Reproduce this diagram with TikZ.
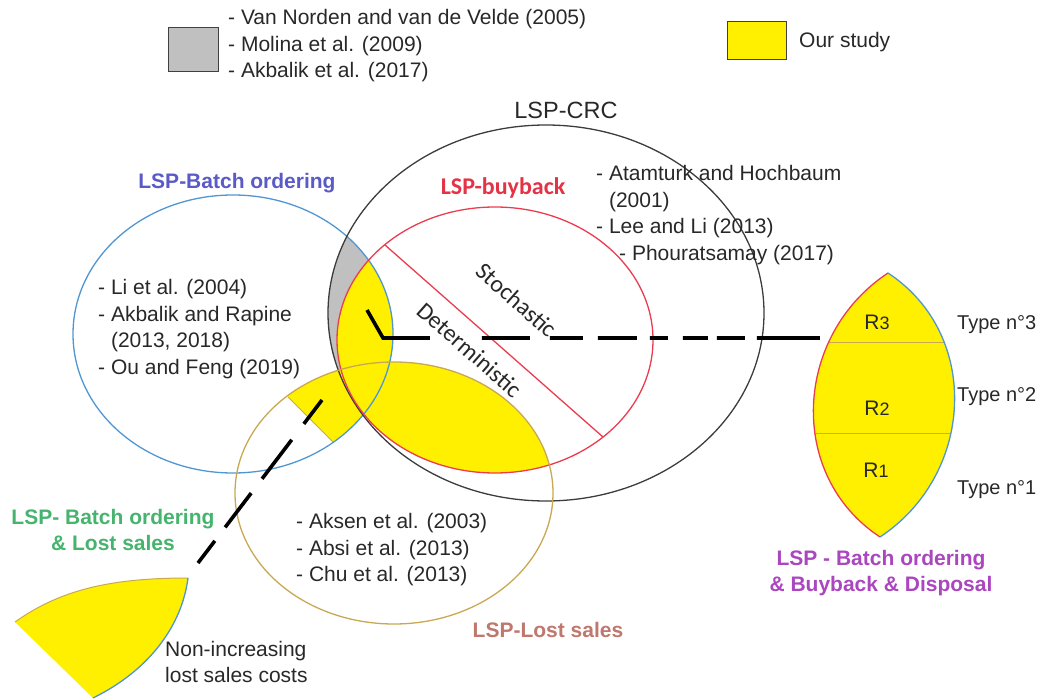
\documentclass[tikz,border=0pt]{standalone}
\usepackage{fontspec}
\setmainfont{Liberation Sans}
\newfontfamily\calibri{Carlito}
\usetikzlibrary{positioning}

\definecolor{ouryellow}{RGB}{255,240,0}
\definecolor{pastgray}{RGB}{192,192,192}
\definecolor{crcline}{RGB}{60,60,60}
\definecolor{buyline}{RGB}{235,60,80}
\definecolor{batchline}{RGB}{80,150,210}
\definecolor{lostline}{RGB}{200,168,80}
\definecolor{reftext}{RGB}{40,40,40}
\definecolor{batchtxt}{RGB}{90,90,200}
\definecolor{buytxt}{RGB}{228,50,70}
\definecolor{losttxt}{RGB}{190,120,110}
\definecolor{mixtxt}{RGB}{70,180,110}
\definecolor{allmix}{RGB}{170,70,190}

\begin{document}
\begin{tikzpicture}[
  x=1pt, y=-1pt,
  font=\fontsize{21}{26.5}\selectfont,
  crcpath/.style={insert path={(546,313) ellipse [x radius=218pt, y radius=188pt]}},
  buypath/.style={insert path={(495,340) ellipse [x radius=158pt, y radius=133pt]}},
  batchpath/.style={insert path={(233,334) ellipse [x radius=160pt, y radius=139pt]}},
  lostpath/.style={insert path={(394,493) ellipse [x radius=159pt, y radius=131pt]}},
  ring/.style={line width=1.3pt},
  ref/.style={align=left, inner sep=0pt, anchor=west, text=reftext},
  setlbl/.style={font=\fontsize{21}{26}\selectfont\bfseries, align=center, inner sep=0pt},
  cutlbl/.style={font=\calibri\fontsize{24}{28}\selectfont, text=reftext, inner sep=0pt, rotate=-41.4},
  typelbl/.style={font=\fontsize{20}{24}\selectfont, inner sep=0pt, anchor=west, text=reftext},
  regionlbl/.style={inner sep=0pt, text=reftext},
  legbox/.style={draw=black!75, line width=1pt, minimum width=50pt, minimum height=44pt, inner sep=0pt},
  lsdash/.style={line width=3.6pt, black},
]
\useasboundingbox (0,0) rectangle (1044,700);

% legend
\node[legbox, fill=pastgray] (graybox) at (193,50) {};
\node[ref] (pastrefs) at (228,46) {- Van Norden and van de Velde (2005)\\- Molina et al. (2009)\\- Akbalik et al. (2017)};
\node[legbox, fill=ouryellow, minimum width=59pt, minimum height=38pt] (yellowbox) at (756.5,41) {};
\node[ref] (ourlbl) at (799,42) {Our study};

% shaded parts of the sets
\begin{scope}
  \clip[crcpath]; \clip[batchpath];
  \fill[pastgray] (0,0) rectangle (1044,700);
\end{scope}
\begin{scope}
  \clip[buypath];
  \fill[ouryellow, batchpath];
  \fill[ouryellow, lostpath];
\end{scope}
\coordinate (cutin) at (288,397);
\coordinate (cutout) at (333,442);
\begin{scope}
  \clip[batchpath]; \clip[lostpath];
  \clip (88,197) -- (533,642) -- (900,642) -- (900,0) -- (88,0) -- cycle;
  \fill[ouryellow] (0,0) rectangle (1044,700);
\end{scope}
\draw[lostline, line width=1pt] (cutin) -- (cutout);

% the four sets
\draw[ring, batchline, batchpath];
\draw[ring, crcline, crcpath];
\draw[ring, buyline, buypath];
\draw[ring, lostline, lostpath];
\coordinate (splitA) at (385,245);
\coordinate (splitB) at (603,437);
\draw[ring, buyline] (splitA) -- (splitB);

% zoomed views
\coordinate (lenstop) at (888,273);
\coordinate (lensbot) at (880,537);
\begin{scope}
  \clip (lenstop) .. controls (794,335) and (786,475) .. (lensbot)
    .. controls (974,475) and (982,335) .. (lenstop) -- cycle;
  \fill[ouryellow] (780,260) rectangle (1000,550);
  \draw[lostline, line width=1pt] (800,343) -- (980,343);
  \draw[lostline, line width=1pt] (800,433) -- (980,433);
\end{scope}
\draw[ring, buyline] (lenstop) .. controls (794,335) and (786,475) .. (lensbot);
\draw[ring, batchline] (lensbot) .. controls (974,475) and (982,335) .. (lenstop);

\coordinate (wedgeA) at (15,622);
\coordinate (wedgeB) at (188,578);
\coordinate (wedgeC) at (93,698);
\fill[ouryellow] (wedgeA) .. controls (60,590) and (110,578) .. (wedgeB)
  .. controls (182,625) and (150,670) .. (wedgeC) -- cycle;
\draw[lostline, line width=1pt] (wedgeA) .. controls (60,590) and (110,578) .. (wedgeB);
\draw[ring, batchline] (wedgeB) .. controls (182,625) and (150,670) .. (wedgeC);

% pointers
\coordinate (kinktop) at (367,310);
\coordinate (kink) at (383,338);
\coordinate (lensin) at (820,338);
\draw[lsdash, dash pattern=on 79pt off 52pt on 48pt off 20pt on 33pt off 15pt on 39pt off 13pt
  on 18pt off 15pt on 25pt off 9pt on 28pt off 12pt on 63pt] (kinktop) -- (kink) -- (lensin);
\coordinate (mixstart) at (322,400);
\coordinate (mixend) at (198,563);
\draw[lsdash, dash pattern=on 30pt off 20pt on 49pt off 18pt on 43pt off 17pt on 28pt] (mixstart) -- (mixend);

% set labels
\node[inner sep=0pt, font=\fontsize{23.5}{28}\selectfont, text=reftext] (crclbl) at (566,110) {LSP-CRC};
\node[setlbl, text=batchtxt] (batchlbl) at (237,183) {LSP-Batch ordering};
\node[inner sep=0pt, font=\calibri\fontsize{24}{28}\selectfont\bfseries, text=buytxt] (buylbl) at (503,188) {LSP-buyback};
\node[setlbl, text=losttxt] (lostlbl) at (548,630) {LSP-Lost sales};
\node[setlbl, text=mixtxt] (mixlbl) at (113,530) {LSP- Batch ordering\\\& Lost sales};
\node[setlbl, text=allmix] (alllbl) at (881,573) {LSP - Batch ordering\\\& Buyback \& Disposal};
\node[cutlbl] (stochlbl) at (517,300) {Stochastic};
\node[cutlbl] (detlbl) at (470,350) {Deterministic};

% references
\node[ref] (batchrefs) at (98,329) {- Li et al. (2004)\\- Akbalik and Rapine\\\hphantom{- }(2013, 2018)\\- Ou and Feng (2019)};
\node[ref] (crcrefs) at (596,215) {- Atamturk and Hochbaum\\\hphantom{- }(2001)\\- Lee and Li (2013)\\\hspace{23pt}- Phouratsamay (2017)};
\node[ref] (lostrefs) at (296,550) {- Aksen et al. (2003)\\- Absi et al. (2013)\\- Chu et al. (2013)};
\node[ref] (wedgelbl) at (165,662) {Non-increasing\\lost sales costs};

% regions of the lens
\node[regionlbl] (rthree) at (877,322) {R{\fontsize{18}{20}\selectfont 3}};
\node[regionlbl] (rtwo) at (877,408) {R{\fontsize{18}{20}\selectfont 2}};
\node[regionlbl] (rone) at (876,470) {R{\fontsize{18}{20}\selectfont 1}};
\node[typelbl] (tthree) at (957,325) {Type n°3};
\node[typelbl] (ttwo) at (957,397) {Type n°2};
\node[typelbl] (tone) at (957,490) {Type n°1};
\end{tikzpicture}
\end{document}
